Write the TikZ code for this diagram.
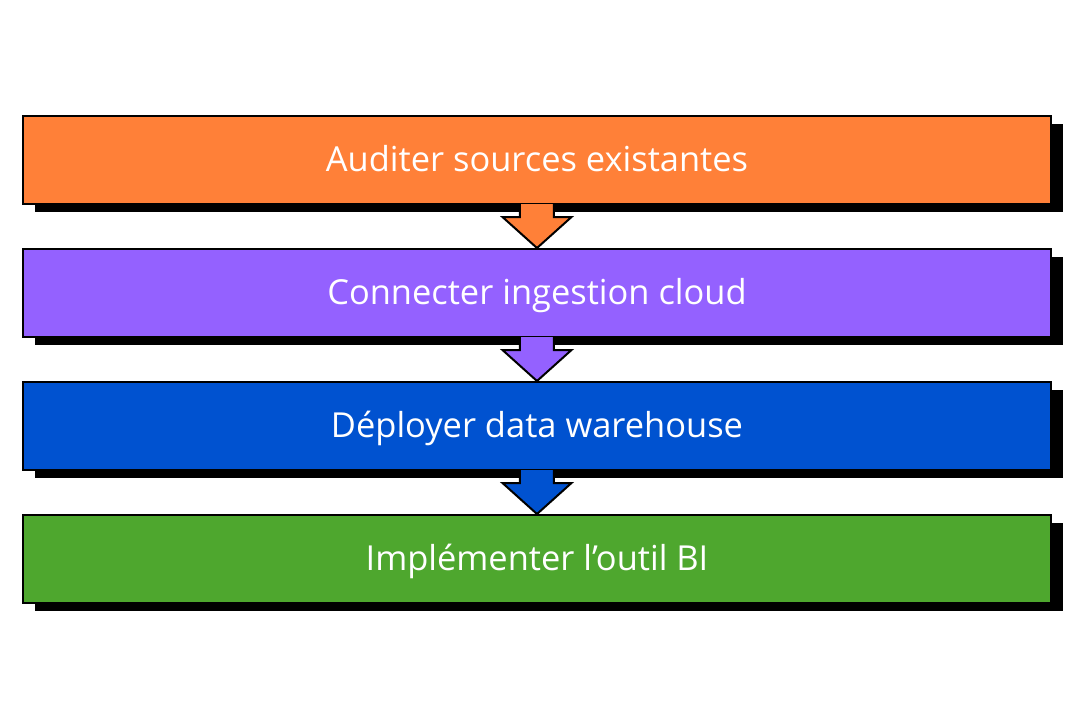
\documentclass[tikz,border=0pt]{standalone}
\usepackage{fontspec}
\setmainfont{Open Sans}
\usetikzlibrary{calc,shadows}
\definecolor{orangeEtape}{HTML}{FF8038}
\definecolor{violetEtape}{HTML}{9461FF}
\definecolor{bleuEtape}{HTML}{0052D0}
\definecolor{vertEtape}{HTML}{4EA72E}
\begin{document}
\begin{tikzpicture}[x=0.1mm,y=-0.1mm]
			\tikzstyle{etape}=[draw=black,line width=0.2mm,minimum width=102.8mm,minimum height=8.8mm,inner sep=0pt,text height=2.2mm,text depth=0pt,text=white,font=\fontsize{9.8}{12}\selectfont,drop shadow={shadow xshift=1.2mm,shadow yshift=-0.75mm,fill=black,opacity=1}]
			\tikzstyle{fleche}=[draw=black,line width=0.2mm,line join=miter]
			\def\Milieu{537}
			\def\Haut{160}
			\def\Pas{133}
			\useasboundingbox (0,0) rectangle (1080,720);
			\node[etape,fill=orangeEtape] (Audit) at (\Milieu,{\Haut+(0)*\Pas}) {Auditer sources existantes};
			\node[etape,fill=violetEtape] (Ingestion) at (\Milieu,{\Haut+(1)*\Pas}) {Connecter ingestion cloud};
			\node[etape,fill=bleuEtape] (Entrepot) at (\Milieu,{\Haut+(2)*\Pas}) {Déployer data warehouse};
			\node[etape,fill=vertEtape] (OutilBI) at (\Milieu,{\Haut+(3)*\Pas}) {Implémenter l’outil BI};
			\filldraw[fleche,fill=orangeEtape] ($(Audit.south)+(-17,-1)$) -- ++(0,13) -- ++(-17.5,0) -- (Ingestion.north) -- ($(Audit.south)+(34.5,12)$) -- ++(-17.5,0) -- ++(0,-13) ;
			\filldraw[fleche,fill=violetEtape] ($(Ingestion.south)+(-17,-1)$) -- ++(0,13) -- ++(-17.5,0) -- (Entrepot.north) -- ($(Ingestion.south)+(34.5,12)$) -- ++(-17.5,0) -- ++(0,-13) ;
			\filldraw[fleche,fill=bleuEtape] ($(Entrepot.south)+(-17,-1)$) -- ++(0,13) -- ++(-17.5,0) -- (OutilBI.north) -- ($(Entrepot.south)+(34.5,12)$) -- ++(-17.5,0) -- ++(0,-13) ;
		\end{tikzpicture}
\end{document}
